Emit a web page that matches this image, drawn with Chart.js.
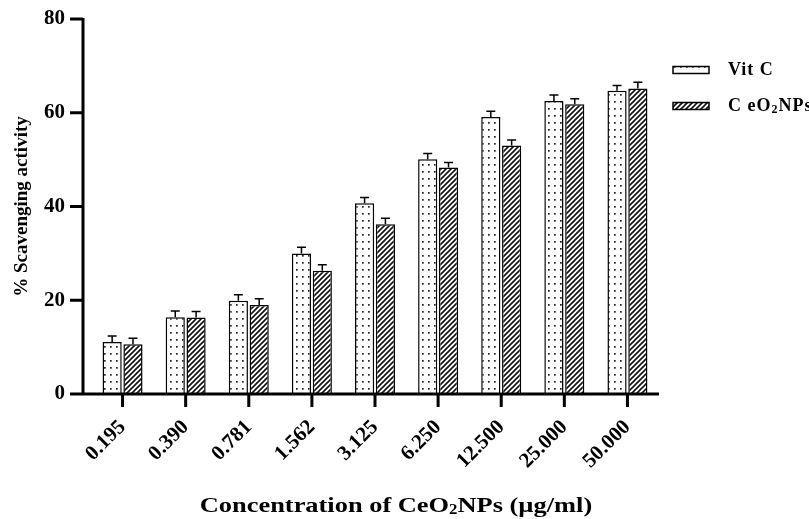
<!DOCTYPE html>
<html>
<head>
<meta charset="utf-8">
<script src="https://cdn.jsdelivr.net/npm/chart.js@4.4.0/dist/chart.umd.min.js"></script>
<style>
html, body { margin: 0; padding: 0; background: #fff; }
</style>
</head>
<body>
<canvas id="myChart" width="809" height="519"></canvas>
<script>
var concentrations = ["0.195", "0.390", "0.781", "1.562", "3.125", "6.250", "12.500", "25.000", "50.000"];
var vitC = [11.1, 16.4, 19.9, 30.0, 40.7, 50.1, 59.1, 62.5, 64.7];
var ceo2 = [10.6, 16.3, 19.0, 26.3, 36.2, 48.3, 53.0, 61.8, 65.2];
var vitCErr = [1.3, 1.3, 1.3, 1.3, 1.2, 1.2, 1.2, 1.3, 1.1];
var ceo2Err = [1.3, 1.3, 1.3, 1.3, 1.3, 1.1, 1.2, 1.2, 1.3];
var yTicks = [0, 20, 40, 60, 80];

var serif = "'Liberation Serif', 'Times New Roman', serif";

// fill patterns
function dotPattern() {
    var c = document.createElement('canvas');
    c.width = 6; c.height = 7;
    var g = c.getContext('2d');
    g.fillStyle = '#fff';
    g.fillRect(0, 0, 6, 7);
    g.fillStyle = '#222';
    g.fillRect(2, 3, 1.7, 1.7);
    return g.createPattern(c, 'repeat');
}
function hatchPattern() {
    var c = document.createElement('canvas');
    c.width = 5; c.height = 5;
    var g = c.getContext('2d');
    g.fillStyle = '#fff';
    g.fillRect(0, 0, 5, 5);
    g.strokeStyle = '#111';
    g.lineWidth = 1.6;
    g.beginPath();
    g.moveTo(-1, 6); g.lineTo(6, -1);
    g.moveTo(-1, 1); g.lineTo(1, -1);
    g.moveTo(4, 6); g.lineTo(6, 4);
    g.stroke();
    return g.createPattern(c, 'repeat');
}

var dots = dotPattern();
var hatch = hatchPattern();
var errors = [vitCErr, ceo2Err];

// text with a subscript part
function drawParts(ctx, parts, x, y, size, align) {
    var total = 0;
    parts.forEach(function (p) {
        ctx.font = 'bold ' + (p.sub ? Math.round(size * 0.65) : size) + 'px ' + serif;
        p.w = ctx.measureText(p.t).width;
        total += p.w;
    });
    var cx = align === 'center' ? x - total / 2 : x;
    parts.forEach(function (p) {
        ctx.font = 'bold ' + (p.sub ? Math.round(size * 0.65) : size) + 'px ' + serif;
        ctx.fillText(p.t, cx, p.sub ? y + size * 0.22 : y);
        cx += p.w;
    });
}

var extras = {
    id: 'extras',
    afterDatasetsDraw: function (chart) {
        var ctx = chart.ctx;
        var yScale = chart.scales.y;
        ctx.save();
        ctx.strokeStyle = '#000';
        ctx.lineWidth = 1.5;
        chart.data.datasets.forEach(function (ds, i) {
            var meta = chart.getDatasetMeta(i);
            meta.data.forEach(function (bar, j) {
                var top = yScale.getPixelForValue(ds.data[j] + errors[i][j]);
                ctx.beginPath();
                ctx.moveTo(bar.x, bar.y);
                ctx.lineTo(bar.x, top);
                ctx.moveTo(bar.x - 4.5, top);
                ctx.lineTo(bar.x + 4.5, top);
                ctx.stroke();
            });
        });
        ctx.restore();
    },
    afterDraw: function (chart) {
        var ctx = chart.ctx;
        var area = chart.chartArea;
        var xScale = chart.scales.x;
        var yScale = chart.scales.y;
        var ax = area.left - 8;
        ctx.save();
        ctx.strokeStyle = '#000';
        ctx.lineWidth = 3;
        ctx.lineCap = 'butt';
        ctx.beginPath();
        ctx.moveTo(ax, area.top - 1);
        ctx.lineTo(ax, area.bottom + 1.5);
        ctx.moveTo(ax - 1.5, area.bottom);
        ctx.lineTo(area.right, area.bottom);
        yTicks.forEach(function (v) {
            var py = yScale.getPixelForValue(v);
            ctx.moveTo(ax - 13, py);
            ctx.lineTo(ax, py);
        });
        concentrations.forEach(function (c, i) {
            var px = xScale.getPixelForTick(i);
            ctx.moveTo(px, area.bottom);
            ctx.lineTo(px, area.bottom + 13);
        });
        ctx.stroke();

        // x-axis title, stretched a little like the original
        ctx.fillStyle = '#000';
        ctx.textBaseline = 'middle';
        ctx.save();
        ctx.translate(396, 506);
        ctx.scale(1.2, 1);
        drawParts(ctx, [
            {t: 'Concentration of CeO'}, {t: '2', sub: true}, {t: 'NPs (\u00b5g/ml)'}
        ], 0, 0, 22, 'center');
        ctx.restore();

        // legend
        var items = [
            {fill: dots, y: 70, parts: [{t: 'Vit C'}]},
            {fill: hatch, y: 106, parts: [{t: 'C eO'}, {t: '2', sub: true}, {t: 'NPs'}]}
        ];
        items.forEach(function (it) {
            ctx.fillStyle = it.fill;
            ctx.fillRect(673, it.y - 3.5, 36, 7);
            ctx.lineWidth = 1.5;
            ctx.strokeRect(673, it.y - 3.5, 36, 7);
            ctx.fillStyle = '#000';
            ctx.letterSpacing = '1px';
            drawParts(ctx, it.parts, 728, it.y, 18, 'left');
            ctx.letterSpacing = '0px';
        });
        ctx.restore();
    }
};

var ctx = document.getElementById("myChart").getContext('2d');

var myChart = new Chart(ctx, {
    type: 'bar',
    data: {
        labels: concentrations,
        datasets: [{
            label: 'Vit C',
            data: vitC,
            backgroundColor: dots,
            borderColor: '#000',
            borderWidth: 1.5,
            barPercentage: 0.92,
            categoryPercentage: 0.66
        }, {
            label: 'CeO\u2082NPs',
            data: ceo2,
            backgroundColor: hatch,
            borderColor: '#000',
            borderWidth: 1.5,
            barPercentage: 0.92,
            categoryPercentage: 0.66
        }]
    },
    options: {
        responsive: false,
        animation: false,
        layout: { padding: { top: 19, right: 150, left: 0, bottom: 0 } },
        plugins: {
            legend: { display: false },
            tooltip: { enabled: false }
        },
        scales: {
            x: {
                grid: { display: false, drawTicks: false },
                border: { display: false },
                ticks: {
                    color: '#000',
                    font: { family: serif, size: 21, weight: 'bold' },
                    minRotation: 45,
                    maxRotation: 45,
                    padding: 21
                },
                afterFit: function (scale) { scale.height = 125; }
            },
            y: {
                min: 0,
                max: 80,
                // tick marks are drawn by the plugin; the length only spaces the labels
                grid: { display: false, drawTicks: true, tickLength: 26 },
                border: { display: false },
                ticks: {
                    stepSize: 20,
                    color: '#000',
                    font: { family: serif, size: 21, weight: 'bold' },
                    padding: 0
                },
                title: {
                    display: true,
                    text: '% Scavenging activity',
                    color: '#000',
                    font: { family: serif, size: 19, weight: 'bold' },
                    padding: { top: 11, bottom: 0 }
                },
                afterFit: function (scale) { scale.width = 91; }
            }
        }
    },
    plugins: [extras]
});
</script>
</body>
</html>
